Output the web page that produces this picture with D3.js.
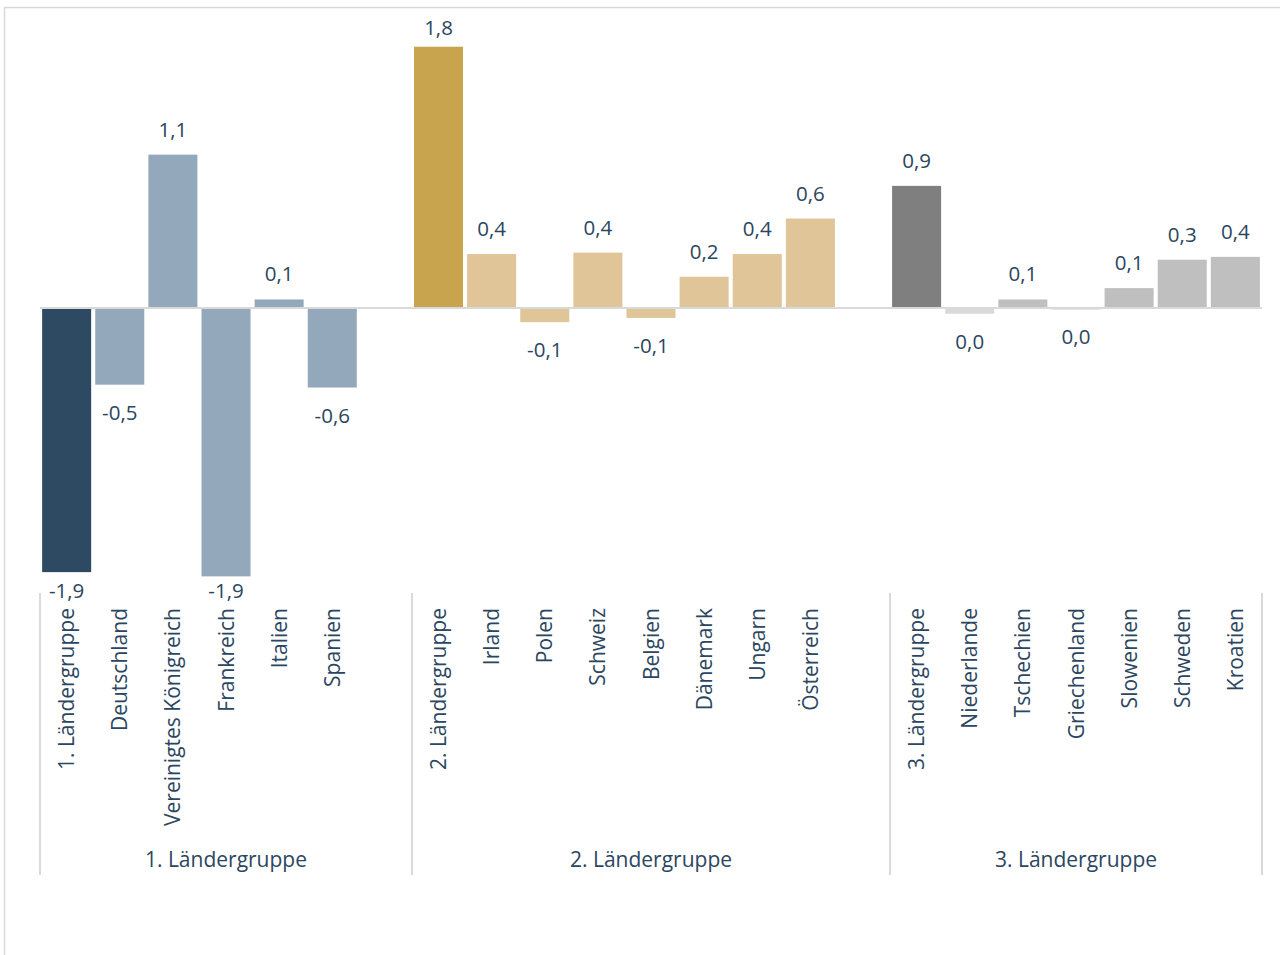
<!DOCTYPE html>
<html>
<head>
    <meta charset="utf-8">
    <script src="https://d3js.org/d3.v7.min.js"></script>
    <style>
        body { margin: 0; background: #fff; }
        text { font-family: "Open Sans", sans-serif; fill: #2b4660; }
    </style>
</head>
<body>
    <svg width="1280" height="955"></svg>

    <script>
        // Ländergruppen und ihre Länder (erstes Element = Gruppenwert)
        var groups = ["1. Ländergruppe", "2. Ländergruppe", "3. Ländergruppe"];

        var categories1 = ["1. Ländergruppe", "Deutschland", "Vereinigtes Königreich", "Frankreich", "Italien", "Spanien"];
        var values1 = [-1.86, -0.54, 1.08, -1.89, 0.06, -0.56];

        var categories2 = ["2. Ländergruppe", "Irland", "Polen", "Schweiz", "Belgien", "Dänemark", "Ungarn", "Österreich"];
        var values2 = [1.84, 0.38, -0.10, 0.39, -0.07, 0.22, 0.38, 0.63];

        var categories3 = ["3. Ländergruppe", "Niederlande", "Tschechien", "Griechenland", "Slowenien", "Schweden", "Kroatien"];
        var values3 = [0.86, -0.04, 0.06, -0.01, 0.14, 0.34, 0.36];

        // Farben: [Gruppe, Länder]
        var groupColors = [["#2e4a63", "#94a8bb"], ["#c9a44e", "#e0c598"], ["#7f7f7f", "#bfbfbf"]];
        var specialColors = { "Niederlande": "#d9d9d9" };

        var svg = d3.select("svg");

        // Rahmen
        svg.append("rect")
            .attr("x", 4.5).attr("y", 7.5)
            .attr("width", 1300).attr("height", 1000)
            .attr("fill", "none")
            .attr("stroke", "#d9d9d9")
            .attr("stroke-width", 1.5);

        // Daten in Slots umwandeln (nach jeder Gruppe außer der letzten ein leerer Slot)
        var allCats = [categories1, categories2, categories3];
        var allVals = [values1, values2, values3];
        var slots = [];
        var bars = [];
        allCats.forEach(function(cats, g) {
            cats.forEach(function(c, i) {
                var key = g + "|" + c;
                slots.push(key);
                bars.push({
                    key: key, name: c, group: g, value: allVals[g][i],
                    color: specialColors[c] || groupColors[g][i === 0 ? 0 : 1]
                });
            });
            if (g < allCats.length - 1) slots.push(g + "|blank");
        });

        var x = d3.scaleBand()
            .domain(slots)
            .range([40, 1262])
            .paddingInner(0.077)
            .paddingOuter(0.04);

        var y = d3.scaleLinear().domain([-2, 2]).range([592, 24]);

        var fmt = function(v) {
            var s = d3.format(".1f")(v).replace("\u2212", "-");
            if (s === "-0.0") s = "0.0";
            return s.replace(".", ",");
        };

        svg.selectAll(".bar")
            .data(bars)
            .enter().append("rect")
            .attr("class", "bar")
            .attr("x", function(d) { return x(d.key); })
            .attr("width", x.bandwidth())
            .attr("y", function(d) { return y(Math.max(0, d.value)); })
            .attr("height", function(d) { return Math.abs(y(d.value) - y(0)); })
            .attr("fill", function(d) { return d.color; });

        // Nulllinie
        svg.append("line")
            .attr("x1", 40).attr("x2", 1262)
            .attr("y1", y(0)).attr("y2", y(0))
            .attr("stroke", "#d9d9d9")
            .attr("stroke-width", 2);

        // Werte
        svg.selectAll(".val")
            .data(bars)
            .enter().append("text")
            .attr("class", "val")
            .attr("x", function(d) { return x(d.key) + x.bandwidth() / 2; })
            .attr("y", function(d) {
                if (d.value >= 0) return Math.max(y(d.value) - 18, 35);
                return Math.min(y(d.value) + 35, 598);
            })
            .attr("text-anchor", "middle")
            .style("font-size", "20.5px")
            .text(function(d) { return fmt(d.value); });

        // Kategorienbeschriftungen (gedreht)
        svg.selectAll(".cat")
            .data(bars)
            .enter().append("text")
            .attr("class", "cat")
            .attr("transform", function(d) {
                return "translate(" + (x(d.key) + x.bandwidth() / 2) + ",608) rotate(-90)";
            })
            .attr("dy", "0.36em")
            .attr("text-anchor", "end")
            .style("font-size", "21px")
            .text(function(d) { return d.name; });

        // Gruppengrenzen
        var bounds = [40];
        allCats.forEach(function(cats, g) {
            var last = g < allCats.length - 1 ? (g + 1) + "|" + allCats[g + 1][0] : null;
            bounds.push(last ? x(last) - x.step() * x.paddingInner() / 2 : 1262);
        });

        svg.selectAll(".sep")
            .data(bounds)
            .enter().append("line")
            .attr("class", "sep")
            .attr("x1", function(d) { return d; })
            .attr("x2", function(d) { return d; })
            .attr("y1", 593).attr("y2", 875)
            .attr("stroke", "#d9d9d9")
            .attr("stroke-width", 2);

        svg.selectAll(".grp")
            .data(groups)
            .enter().append("text")
            .attr("class", "grp")
            .attr("x", function(d, i) { return (bounds[i] + bounds[i + 1]) / 2; })
            .attr("y", 867)
            .attr("text-anchor", "middle")
            .style("font-size", "21px")
            .text(function(d) { return d; });
    </script>
</body>
</html>
